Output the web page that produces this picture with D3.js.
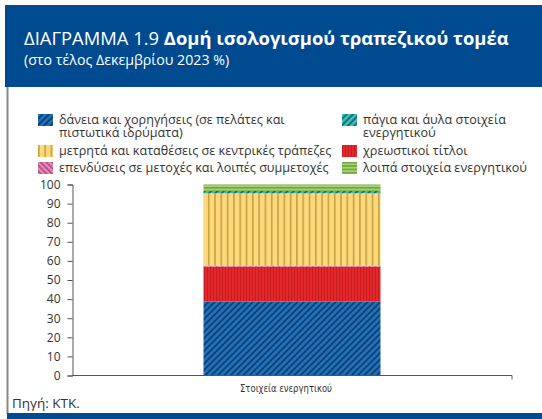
<!DOCTYPE html>
<html>
<head>
<meta charset="utf-8">
<script src="https://cdn.jsdelivr.net/npm/d3@7"></script>
<style>
  body { margin: 0; background: #fff; }
  svg { display: block; font-family: "Open Sans", sans-serif; }
</style>
</head>
<body>
<div id="chart"></div>
<script>
// data
const categories = ['Στοιχεία ενεργητικού'];
const seriesKeys = ['loans', 'debt', 'equity', 'cash', 'fixed', 'other'];
const seriesLabels = [
  ['δάνεια και χορηγήσεις (σε πελάτες και', 'πιστωτικά ιδρύματα)'],
  ['χρεωστικοί τίτλοι'],
  ['επενδύσεις σε μετοχές και λοιπές συμμετοχές'],
  ['μετρητά και καταθέσεις σε κεντρικές τράπεζες'],
  ['πάγια και άυλα στοιχεία', 'ενεργητικού'],
  ['λοιπά στοιχεία ενεργητικού']
];
const seriesValues = [38.7, 18.3, 0.4, 38.0, 1.2, 3.4];
const yTicks = [0, 10, 20, 30, 40, 50, 60, 70, 80, 90, 100];
// legend: left column then right column
const legendLeft = ['loans', 'cash', 'equity'];
const legendRight = ['fixed', 'debt', 'other'];

const width = 542;
const height = 419;
const blue = '#004a8f';

const svg = d3.select('#chart').append('svg')
  .attr('width', width)
  .attr('height', height);

// patterns
const defs = svg.append('defs');
function stripes(id, base, line, size, angle, lw) {
  const p = defs.append('pattern')
    .attr('id', id)
    .attr('patternUnits', 'userSpaceOnUse')
    .attr('width', size)
    .attr('height', size)
    .attr('patternTransform', `rotate(${angle})`);
  p.append('rect').attr('width', size).attr('height', size).attr('fill', base);
  p.append('rect').attr('x', 0).attr('width', lw).attr('height', size).attr('fill', line);
}
stripes('p-loans', '#1f71b8', '#0f3f72', 4.5, 45, 1.8);
stripes('p-debt', '#e3272a', '#c41c20', 3, 0, 1);
stripes('p-equity', '#ec86b8', '#a44a7e', 4, -45, 1.5);
stripes('p-cash', '#fdd87c', '#c9a23c', 6.3, 0, 1.6);
stripes('p-fixed', '#3bbcbc', '#1c6b6e', 4.5, 45, 1.8);
stripes('p-other', '#a5d476', '#72a640', 3.4, 90, 1.6);

const fills = {};
seriesKeys.forEach(k => fills[k] = `url(#p-${k})`);

// header
svg.append('rect')
  .attr('x', 5).attr('y', 5)
  .attr('width', width - 5).attr('height', 82)
  .attr('fill', blue);

const title = svg.append('text')
  .attr('x', 24).attr('y', 45)
  .attr('fill', '#fff')
  .style('font-size', '18.4px');
title.append('tspan').text('ΔΙΑΓΡΑΜΜΑ 1.9 ');
title.append('tspan').style('font-weight', 700).text('Δομή ισολογισμού τραπεζικού τομέα');

svg.append('text')
  .attr('x', 24).attr('y', 65)
  .attr('fill', '#fff')
  .style('font-size', '14.2px')
  .text('(στο τέλος Δεκεμβρίου 2023 %)');

// frame
svg.append('line')
  .attr('x1', 7.5).attr('x2', 7.5)
  .attr('y1', 87).attr('y2', 414)
  .attr('stroke', '#888').attr('stroke-width', 2);
svg.append('rect')
  .attr('x', 7).attr('y', 413)
  .attr('width', width - 7).attr('height', 6)
  .attr('fill', blue);

// legend
function drawLegend(keys, x0, rows) {
  keys.forEach((k, i) => {
    const i0 = seriesKeys.indexOf(k);
    const g = svg.append('g').attr('transform', `translate(${x0}, ${rows[i]})`);
    g.append('rect')
      .attr('x', 0).attr('y', -10)
      .attr('width', 15).attr('height', 12)
      .attr('fill', fills[k]);
    // one text per line
    g.selectAll('text')
      .data(seriesLabels[i0])
      .enter().append('text')
      .attr('x', 21)
      .attr('y', (d, j) => j * 12.5)
      .attr('fill', '#333')
      .style('font-size', '12.6px')
      .text(d => d);
  });
}
drawLegend(legendLeft, 38, [124, 155, 172]);
drawLegend(legendRight, 342, [124, 155, 172]);

// scales
const x = d3.scaleBand()
  .domain(categories)
  .range([72, 512])
  .paddingInner(0)
  .paddingOuter(0.743);

const y = d3.scaleLinear()
  .domain([0, 100])
  .range([375.5, 184.5]);

const row = {};
seriesKeys.forEach((k, i) => row[k] = seriesValues[i]);
const stacked = d3.stack().keys(seriesKeys)([row]);

svg.append('g')
  .selectAll('rect')
  .data(stacked)
  .enter().append('rect')
  .attr('x', x(categories[0]))
  .attr('width', x.bandwidth())
  .attr('y', d => y(d[0][1]))
  .attr('height', d => y(d[0][0]) - y(d[0][1]))
  .attr('fill', d => fills[d.key]);

// y axis
const yAxis = svg.append('g')
  .attr('transform', 'translate(72.5,0)')
  .call(d3.axisLeft(y).tickValues(yTicks).tickSize(5).tickPadding(7));
yAxis.select('.domain').attr('stroke', '#555');
yAxis.selectAll('.tick line').attr('stroke', '#555');
yAxis.selectAll('.tick text')
  .attr('fill', '#333')
  .style('font-size', '12px')
  .style('font-family', '"Open Sans", sans-serif');

// x axis
const xAxis = svg.append('g')
  .attr('transform', `translate(0,${y(0)})`)
  .call(d3.axisBottom(x).tickSize(0).tickPadding(9));
xAxis.select('.domain').attr('stroke', '#555').attr('d', 'M72,0H512V4');
xAxis.selectAll('.tick text')
  .attr('x', -6)
  .attr('fill', '#333')
  .attr('textLength', 92)
  .attr('lengthAdjust', 'spacingAndGlyphs')
  .style('font-size', '11px')
  .style('font-family', '"Liberation Sans Narrow", "DejaVu Sans Condensed", sans-serif');

// source
svg.append('text')
  .attr('x', 12).attr('y', 408)
  .attr('fill', '#333')
  .style('font-size', '13.5px')
  .text('Πηγή: ΚΤΚ.');
</script>
</body>
</html>
